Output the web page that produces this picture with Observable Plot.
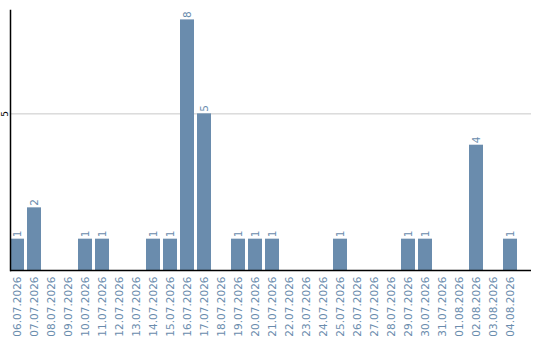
<!DOCTYPE html>
<html>
<head>
<meta charset="utf-8">
<script src="https://cdn.jsdelivr.net/npm/d3@7"></script>
<script src="https://cdn.jsdelivr.net/npm/@observablehq/plot@0.6"></script>
<style>
  html, body { margin: 0; padding: 0; background: #fff; }
  #chart svg { display: block; }
</style>
</head>
<body>
<div id="chart"></div>
<script>
// Daily counts, 06.07.2026 – 04.08.2026
const dates = [
  "06.07.2026", "07.07.2026", "08.07.2026", "09.07.2026", "10.07.2026",
  "11.07.2026", "12.07.2026", "13.07.2026", "14.07.2026", "15.07.2026",
  "16.07.2026", "17.07.2026", "18.07.2026", "19.07.2026", "20.07.2026",
  "21.07.2026", "22.07.2026", "23.07.2026", "24.07.2026", "25.07.2026",
  "26.07.2026", "27.07.2026", "28.07.2026", "29.07.2026", "30.07.2026",
  "31.07.2026", "01.08.2026", "02.08.2026", "03.08.2026", "04.08.2026"
];
const counts = [
  1, 2, 0, 0, 1,
  1, 0, 0, 1, 1,
  8, 5, 0, 1, 1,
  1, 0, 0, 0, 1,
  0, 0, 0, 1, 1,
  0, 0, 4, 0, 1
];
const yTicks = [5];

const barColor = "#6a8cad";
const rows = dates.map((d, i) => ({date: d, count: counts[i]}));
const labelled = rows.filter(r => r.count > 0);

const chart = Plot.plot({
  width: 540,
  height: 340,
  marginTop: 10,
  marginRight: 9,
  marginBottom: 70,
  marginLeft: 10,
  style: {fontFamily: "DejaVu Sans, sans-serif", fontSize: "10px", background: "#fff"},
  x: {domain: dates, paddingInner: 0.176, paddingOuter: 0.41, align: 0, label: null},
  y: {domain: [0, 8.3], label: null},
  marks: [
    Plot.gridY(yTicks, {stroke: "#c8c8c8", strokeOpacity: 1}),
    Plot.barY(rows, {x: "date", y: "count", fill: barColor}),
    Plot.text(labelled, {
      x: "date", y: "count", text: d => String(d.count),
      rotate: -90, textAnchor: "start", dy: -2,
      fill: barColor, fontSize: 10.5
    }),
    Plot.axisX({tickSize: 0, tickRotate: -90, tickPadding: 6, color: barColor, fontSize: 10.5, label: null}),
    Plot.axisY(yTicks, {tickSize: 0, tickRotate: -90, tickPadding: 3, fontSize: 9, color: "#000", label: null}),
    Plot.frame({anchor: "left", stroke: "#000", strokeWidth: 1.5}),
    Plot.ruleY([0], {stroke: "#000", strokeWidth: 1.5})
  ]
});
document.getElementById("chart").appendChild(chart);
</script>
</body>
</html>
